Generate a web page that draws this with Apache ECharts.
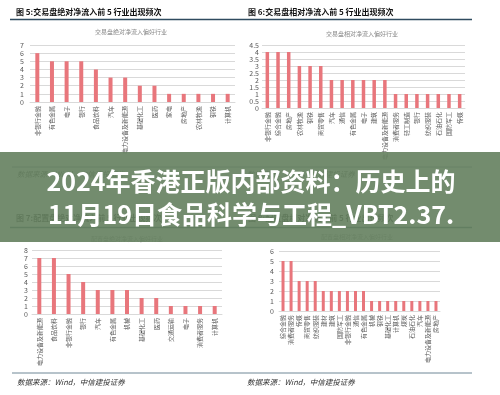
<!DOCTYPE html>
<html>
<head>
<meta charset="utf-8">
<script src="https://cdn.jsdelivr.net/npm/echarts@6/dist/echarts.min.js"></script>
<style>
html,body{margin:0;padding:0;background:#fff;}
#c{width:500px;height:395px;}
</style>
</head>
<body>
<div id="c"></div>
<script>
// Chart 5: 交易盘绝对净流入偏好行业
const cats1 = ['非银行金融','有色金属','电子','银行','食品饮料','汽车','电力设备及新能源','基础化工','医药','家电','房地产','农林牧渔','钢铁','计算机'];
const vals1 = [6,5,5,5,4,3,3,2,2,1,1,1,1,1];
// Chart 6: 交易盘相对净流入偏好行业
const cats2 = ['非银行金融','综合金融','房地产','农林牧渔','钢铁','商贸零售','汽车','通信','有色金属','电子','建筑','电力设备及新能源','消费者服务','轻工制造','银行','纺织服装','石油石化','国防军工','传媒'];
const vals2 = [4,4,4,3,3,3,2,2,2,2,2,2,1,1,1,1,1,1,1];
// Chart 7: 配置盘绝对净流入偏好行业
const cats3 = ['电力设备及新能源','食品饮料','非银行金融','银行','汽车','有色金属','机械','基础化工','医药','交通运输','电子','消费者服务','计算机'];
const vals3 = [7,7,5,4,3,3,3,2,2,1,1,1,1];
// Chart 8: 配置盘相对净流入偏好行业
const cats4 = ['综合金融','消费者服务','传媒','商贸零售','纺织服装','建材','建筑','国防军工','非银行金融','通信','有色金属','机械','钢铁','基础化工','计算机','煤炭','石油石化','汽车','电力设备及新能源','房地产'];
const vals4 = [5,5,3,3,3,2,2,2,2,2,2,1,1,1,1,1,1,1,1,1];

const yMax = [7, 4.5, 8, 6];
const yInt = [1, 0.5, 1, 1];

const titles = ['图 5:交易盘绝对净流入前 5 行业出现频次','图 6:交易盘相对净流入前 5 行业出现频次','图 7:配置盘绝对净流入前 5 行业出现频次','图 8:配置盘相对净流入前 5 行业出现频次'];
const subtitles = ['交易盘绝对净流入偏好行业','交易盘相对净流入偏好行业','配置盘绝对净流入偏好行业','配置盘相对净流入偏好行业'];
const sourceText = '数据来源：Wind，中信建投证券';
const bannerLines = ['2024年香港正版内部资料：历史上的','11月19日食品科学与工程_VBT2.37.'];

const cats = [cats1,cats2,cats3,cats4];
const vals = [vals1,vals2,vals3,vals4];

const grids = [
  {left:30, top:45, width:205, height:57},
  {left:262, top:45, width:203, height:63},
  {left:32, top:250, width:190, height:64},
  {left:279, top:251, width:161, height:60}
];
const barW = [4, 3.5, 4, 3];
const yMargin = [6, 3, 4, 5];
const FONT = '"Noto Sans CJK SC","Noto Sans",sans-serif';
const BAR = '#e8767c';
const GRIDC = '#d9d9d9';
const LABC = '#595959';

const xAxis = [], yAxis = [], series = [];
for (let i=0;i<4;i++){
  xAxis.push({type:'category', gridIndex:i, data:cats[i],
    axisLine:{show:true, lineStyle:{color:GRIDC, width:1}},
    axisTick:{show:false},
    axisLabel:{rotate:90, interval:0, fontSize:6, color:LABC, margin:4, fontFamily:FONT}});
  yAxis.push({type:'value', gridIndex:i, min:0, max:yMax[i], interval:yInt[i],
    axisLine:{show:false}, axisTick:{show:false},
    axisLabel:{fontSize:7, color:LABC, margin:yMargin[i], fontFamily:FONT},
    splitLine:{lineStyle:{color:GRIDC, width:1}}});
  series.push({type:'bar', xAxisIndex:i, yAxisIndex:i, data:vals[i], barWidth:barW[i],
    itemStyle:{color:BAR}, silent:true});
}

const g = [];
// top title row
const titlePos = [[16,12],[248,12],[16,218],[248,218]];
for (let i=0;i<4;i++){
  g.push({type:'text', x:titlePos[i][0], y:titlePos[i][1], z:10,
    style:{text:titles[i], font:'bold 8px '+FONT, fill:'#111', textVerticalAlign:'middle'}});
}
const subPos = [[131,32],[362,34],[127,239],[357,237]];
for (let i=0;i<4;i++){
  g.push({type:'text', x:subPos[i][0], y:subPos[i][1], z:10,
    style:{text:subtitles[i], font:'6px '+FONT, fill:'#8a8a8a', textAlign:'center', textVerticalAlign:'middle'}});
}
// title underlines
g.push({type:'line', z:10, shape:{x1:10,y1:19.5,x2:472,y2:19.5}, style:{stroke:'#2f4b5f', lineWidth:1.5}});
g.push({type:'line', z:10, shape:{x1:10,y1:227.5,x2:472,y2:227.5}, style:{stroke:'#2f4b5f', lineWidth:1.5}});
// source lines
g.push({type:'line', z:10, shape:{x1:12,y1:167,x2:472,y2:167}, style:{stroke:'#6f8796', lineWidth:1}});
g.push({type:'line', z:10, shape:{x1:12,y1:373,x2:472,y2:373}, style:{stroke:'#6f8796', lineWidth:1}});
const srcPos = [[17,174],[247,174],[17,382],[247,382]];
for (let i=0;i<4;i++){
  g.push({type:'text', x:srcPos[i][0], y:srcPos[i][1], z:10,
    style:{text:sourceText, font:'italic 7.5px '+FONT, fill:'#333', textVerticalAlign:'middle'}});
}
// banner overlay
g.push({type:'rect', z:100, shape:{x:0,y:152,width:500,height:90}, style:{fill:'rgba(103,130,98,0.92)'}});
g.push({type:'text', z:101, x:251, y:181,
  style:{text:bannerLines[0], font:'bold 25px '+FONT, fill:'#fff', textAlign:'center', textVerticalAlign:'middle',
    shadowColor:'rgba(0,0,0,0.7)', shadowBlur:3, shadowOffsetX:1, shadowOffsetY:1}});
g.push({type:'text', z:101, x:251, y:214,
  style:{text:bannerLines[1], font:'bold 25px '+FONT, fill:'#fff', textAlign:'center', textVerticalAlign:'middle',
    shadowColor:'rgba(0,0,0,0.7)', shadowBlur:3, shadowOffsetX:1, shadowOffsetY:1}});

const chart = echarts.init(document.getElementById('c'), null, {renderer:'canvas'});
chart.setOption({
  animation:false,
  backgroundColor:'#fff',
  grid:grids,
  xAxis:xAxis,
  yAxis:yAxis,
  series:series,
  graphic:{elements:g}
});
</script>
</body>
</html>
